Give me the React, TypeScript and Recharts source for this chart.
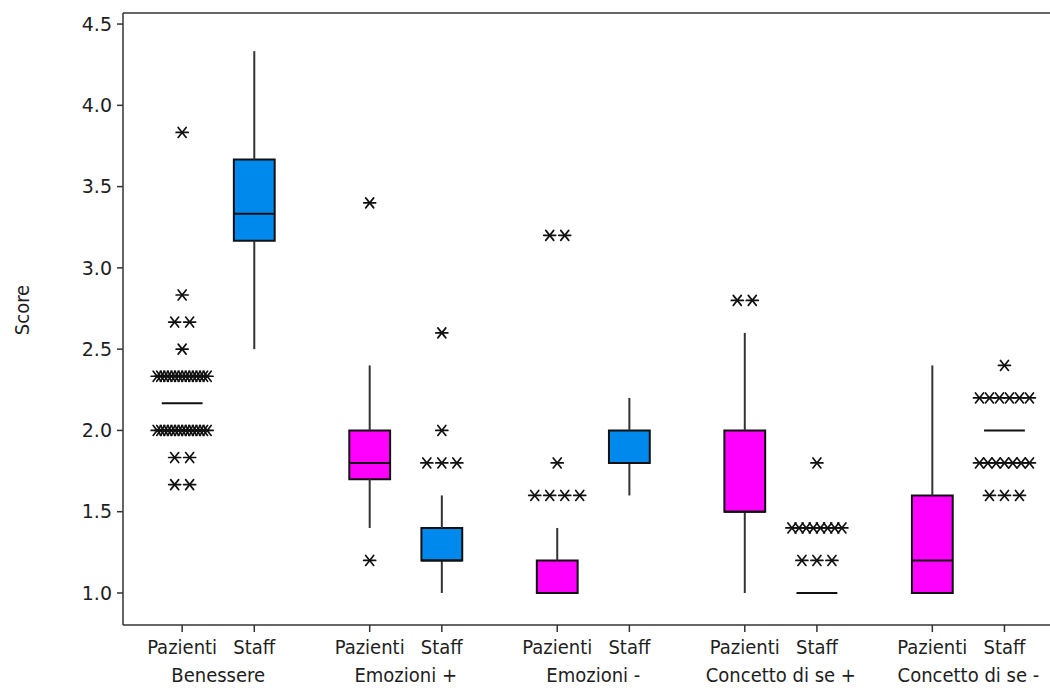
import React from 'react';
import {
  ComposedChart,
  Scatter,
  XAxis,
  YAxis,
  ReferenceArea,
  ReferenceLine,
} from 'recharts';

const GROUPS = ['Benessere', 'Emozioni +', 'Emozioni -', 'Concetto di se +', 'Concetto di se -'];
const ROLES = ['Pazienti', 'Staff'];

// one entry per box: Pazienti / Staff for each group, in group order
const whiskerLow = [2.1667, 2.5, 1.4, 1.0, 1.0, 1.6, 1.0, 1.0, 1.0, 2.0];
const q1 = [2.1667, 3.1667, 1.7, 1.2, 1.0, 1.8, 1.5, 1.0, 1.0, 2.0];
const median = [2.1667, 3.3333, 1.8, 1.2, 1.0, 1.8, 1.5, 1.0, 1.2, 2.0];
const q3 = [2.1667, 3.6667, 2.0, 1.4, 1.2, 2.0, 2.0, 1.0, 1.6, 2.0];
const whiskerHigh = [2.1667, 4.3333, 2.4, 1.6, 1.4, 2.2, 2.6, 1.0, 2.4, 2.0];

// outlier values and how many tied observations sit at each value
const outlierValues = [
  [3.8333, 2.8333, 2.6667, 2.5, 2.3333, 2.0, 1.8333, 1.6667],
  [],
  [3.4, 1.2],
  [2.6, 2.0, 1.8],
  [3.2, 1.8, 1.6],
  [],
  [2.8],
  [1.8, 1.4, 1.2],
  [],
  [2.4, 2.2, 1.8, 1.6],
];
const outlierCounts = [
  [1, 1, 2, 1, 15, 15, 2, 2],
  [],
  [1, 1],
  [1, 1, 3],
  [2, 1, 4],
  [],
  [2],
  [1, 8, 3],
  [],
  [1, 6, 7, 3],
];

const Y_TICKS = [1.0, 1.5, 2.0, 2.5, 3.0, 3.5, 4.0, 4.5];

const GROUP_STEP = 2.6;
const X_DOMAIN: [number, number] = [-0.82, 12.17];
const Y_DOMAIN: [number, number] = [0.803, 4.568];

const BOX_HALF = 0.283;
const PINK = '#FF00FF';
const BLUE = '#0089ED';
const FONT = "'DejaVu Sans Condensed', 'DejaVu Sans', sans-serif";
const TEXT = '#1e1e1e';

const positions = GROUPS.flatMap((_, g) => [g * GROUP_STEP, g * GROUP_STEP + 1]);
const groupCenters = GROUPS.map((_, g) => g * GROUP_STEP + 0.5);

const outlierPoints = positions.flatMap((x, k) =>
  outlierValues[k].flatMap((y, j) =>
    Array.from({ length: outlierCounts[k][j] }, (_, i) => ({ x, y, n: outlierCounts[k][j], i }))
  )
);
// invisible anchors so the group-name axis has something to scale
const groupAnchors = groupCenters.map((x) => ({ x, y: 1 }));

// Minitab style asterisk; tied values are spread side by side
const Asterisk = (props: any) => {
  const { cx, cy, payload } = props;
  if (cx == null || cy == null) return null;
  const n = payload.n;
  const step = n > 1 ? Math.min(15, 50 / (n - 1)) : 0;
  const x = cx + (payload.i - (n - 1) / 2) * step;
  return (
    <g stroke="#111" strokeWidth={1.7} strokeLinecap="round">
      <line x1={x - 6} y1={cy} x2={x + 6} y2={cy} />
      <line x1={x - 4} y1={cy - 5} x2={x + 4} y2={cy + 5} />
      <line x1={x - 4} y1={cy + 5} x2={x + 4} y2={cy - 5} />
    </g>
  );
};

const Nothing = () => null;

const ScoreLabel = (props: any) => {
  const vb = props.viewBox || { x: 0, y: 0, width: 0, height: 0 };
  const x = vb.x + 22;
  const y = vb.y + vb.height / 2 - 9;
  return (
    <text
      x={x}
      y={y}
      transform={`rotate(-90, ${x}, ${y})`}
      textAnchor="middle"
      dominantBaseline="central"
      fontFamily={FONT}
      fontSize={20}
      fill={TEXT}
    >
      Score
    </text>
  );
};

export default function App() {
  return (
    <div style={{ position: 'absolute', left: 0, top: 0, width: 1050, height: 690, overflow: 'hidden', background: '#fff' }}>
      <ComposedChart width={1070} height={690} margin={{ top: 13, right: 10, bottom: 5, left: 0 }}>
        <XAxis
          type="number"
          dataKey="x"
          domain={X_DOMAIN}
          ticks={positions}
          interval={0}
          allowDataOverflow
          tickFormatter={(_v: number, i: number) => ROLES[i % 2]}
          tickSize={7}
          tickMargin={8}
          height={30}
          stroke="#333"
          strokeWidth={1.5}
          tick={{ fill: TEXT, fontSize: 20, fontFamily: FONT }}
        />
        <XAxis
          xAxisId="grp"
          type="number"
          dataKey="x"
          domain={X_DOMAIN}
          ticks={groupCenters}
          interval={0}
          allowDataOverflow
          tickFormatter={(_v: number, i: number) => GROUPS[i]}
          axisLine={false}
          tickLine={false}
          tickSize={0}
          tickMargin={13}
          height={30}
          tick={{ fill: TEXT, fontSize: 20, fontFamily: FONT }}
        />
        <YAxis
          type="number"
          dataKey="y"
          domain={Y_DOMAIN}
          ticks={Y_TICKS}
          interval={0}
          allowDataOverflow
          tickFormatter={(v: number) => v.toFixed(1)}
          width={123}
          tickSize={6}
          tickMargin={5}
          stroke="#333"
          strokeWidth={1.5}
          tick={{ fill: TEXT, fontSize: 19, fontFamily: "'DejaVu Sans', sans-serif" }}
          label={{ content: ScoreLabel }}
        />

        <ReferenceLine y={Y_DOMAIN[1]} stroke="#333" strokeWidth={1.5} />

        {positions.map((x, k) => (
          <React.Fragment key={`w${k}`}>
            {whiskerHigh[k] > q3[k] && (
              <ReferenceLine
                segment={[{ x, y: q3[k] }, { x, y: whiskerHigh[k] }]}
                stroke="#333"
                strokeWidth={2}
              />
            )}
            {whiskerLow[k] < q1[k] && (
              <ReferenceLine
                segment={[{ x, y: whiskerLow[k] }, { x, y: q1[k] }]}
                stroke="#333"
                strokeWidth={2}
              />
            )}
          </React.Fragment>
        ))}

        {positions.map((x, k) =>
          q3[k] > q1[k] ? (
            <ReferenceArea
              key={`b${k}`}
              x1={x - BOX_HALF}
              x2={x + BOX_HALF}
              y1={q1[k]}
              y2={q3[k]}
              fill={k % 2 === 0 ? PINK : BLUE}
              fillOpacity={1}
              stroke="#111"
              strokeWidth={2}
            />
          ) : null
        )}

        {positions.map((x, k) => (
          <ReferenceLine
            key={`m${k}`}
            segment={[{ x: x - BOX_HALF, y: median[k] }, { x: x + BOX_HALF, y: median[k] }]}
            stroke="#111"
            strokeWidth={2}
          />
        ))}

        <Scatter data={outlierPoints} shape={Asterisk} isAnimationActive={false} />
        <Scatter xAxisId="grp" data={groupAnchors} shape={Nothing} isAnimationActive={false} />
      </ComposedChart>
    </div>
  );
}
